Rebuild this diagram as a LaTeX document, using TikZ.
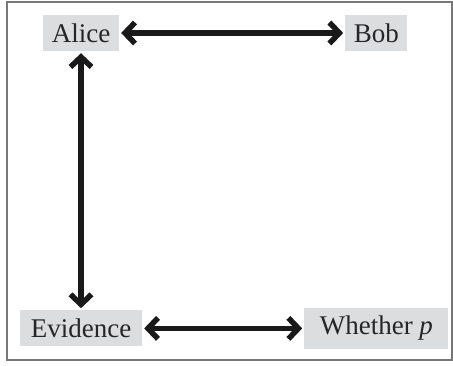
\documentclass[tikz,border=0pt]{standalone}
\usepackage{fontspec}
\setmainfont{Liberation Serif}
\usetikzlibrary{arrows.meta,positioning}
\definecolor{boxgray}{RGB}{220,221,222}
\definecolor{framegray}{RGB}{120,120,120}

\begin{document}
\begin{tikzpicture}[
    x=1pt, y=1pt,
    party/.style={rectangle, fill=boxgray, inner sep=0pt, minimum height=36pt,
        text=black!85, font=\fontsize{27}{32}\selectfont},
    link/.style={{Straight Barb[length=10pt,width=21pt]}-{Straight Barb[length=10pt,width=21pt]},
        line width=5.5pt, line cap=round, line join=round, black!90,
        shorten <=2pt, shorten >=2pt}
]
\useasboundingbox (0,0) rectangle (453,-366);

% outer frame
\draw[framegray, line width=1.2pt] (7,-2) rectangle (452,-360);

% top row
\node[party, minimum width=76pt] (alice) at (81,-33) {Alice};
\node[party, minimum width=62pt, right=226pt of alice] (bob) {Bob};

% bottom row
\node[party, minimum width=122pt, below=259pt of alice] (evidence) {Evidence};
\node[party, minimum width=144pt, minimum height=41pt, right=162pt of evidence] (whether) {Whether \textit{p}};

% links
\draw[link] (alice) -- (bob);
\draw[link] (alice) -- (evidence);
\draw[link] (evidence) -- (whether);

\end{tikzpicture}
\end{document}
